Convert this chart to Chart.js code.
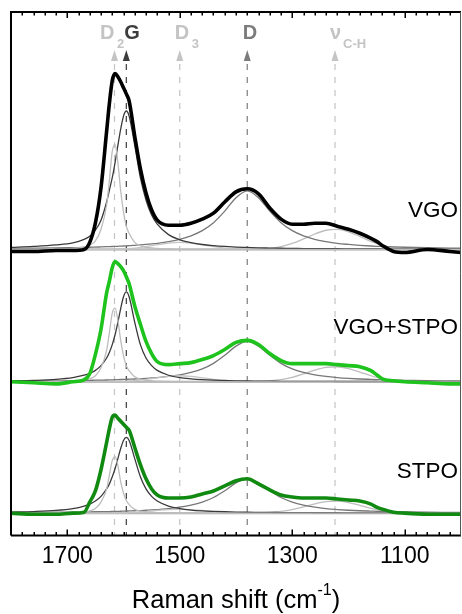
<!DOCTYPE html>
<html>
<head>
<meta charset="utf-8">
<script src="https://cdn.jsdelivr.net/npm/chart.js@4.4.1/dist/chart.umd.min.js"></script>
<style>
  html, body { margin: 0; padding: 0; background: #fff; }
  #wrap { width: 462px; height: 614px; }
</style>
</head>
<body>
<div id="wrap"><canvas id="raman"></canvas></div>
<script>
// Raman shift grid (cm-1), shared by all curves
const waveNumbers = [1800,1760,1720,1690,1670,1660,1650,1640,1630,1625,1620,1615,1610,1605,1600,1595,1590,1580,1570,1560,1550,1540,1520,1500,1480,1460,1440,1420,1400,1380,1360,1340,1320,1300,1280,1260,1240,1220,1200,1180,1160,1150,1140,1120,1100,1060,1020,1000];
const tickValues = [1700, 1500, 1300, 1100];

// measured spectra (intensity above each baseline, a.u.)
const vgoSpectrum  = [-2,-2,-1,-1,0,7,26,61,117,145,167,174,171,166,160,154,147,112,80,56,39,29,24,24,26,30,36,47,57,60,55,41,30,25,25,26,26,23,20,16,11,8,4,-2,-3,0,-2,-3];
const mixSpectrum  = [0,-1,-2,0,2,8,27,52,88,100,113,119,117,114,110,104,97,75,57,40,28,20,17,18,19,22,26,32,39,41,37,28,21,18,18,18,18,17,16,15,11,7,3,1,0,-1,-2,-2];
const stpoSpectrum = [0,-1,-1,0,1,11,22,43,70,84,95,97,94,91,88,85,82,65,48,34,24,18,15,15,16,19,22,27,32,34,29,23,18,16,15,15,15,14,13,12,9,6,4,1,0,-1,-1,-1];

// fitted bands, VGO
const vgoD2 = [0,0,0.5,1,2.6,4.2,8.4,20,44,69,97,104,86,58,37,23,16,7,3.7,2.1,1.6,1,0.5,0,0,0,0,0,0,0,0,0,0,0,0,0,0,0,0,0,0,0,0,0,0,0,0,0];
const vgoG  = [2,3,4.5,6.5,10,13,19,29,47,59,71,86,103,119,132,137,132,103,71,49,34,25,14.7,9.5,6.7,4.9,3.8,3,2.4,2,1.6,1.4,1.2,1.1,0.9,0.8,0.7,0.7,0.6,0.5,0.5,0.5,0.4,0.4,0.4,0.3,0.3,0.3];
const vgoD3 = [0,0,0,0,0,0,0,0,0,0,0.2,0.3,0.4,0.5,0.6,0.8,0.9,1.4,2.1,2.9,3.8,4.7,6.3,7,6.3,4.7,2.9,1.4,0.6,0.2,0,0,0,0,0,0,0,0,0,0,0,0,0,0,0,0,0,0];
const vgoD  = [1,1.2,1.5,1.8,2,2.2,2.3,2.5,2.7,2.8,2.9,3,3.1,3.3,3.4,3.6,3.7,4.1,4.5,5,5.6,6.1,7.8,10,13.5,18.6,26.5,37.9,51.2,58,51.2,37.9,26.5,18.6,13.5,10,7.8,6.1,5,4.1,3.4,3.1,2.9,2.5,2.2,1.7,1.3,1.2];
const vgoCH = [0,0,0,0,0,0,0,0,0,0,0,0,0,0,0,0,0,0,0,0,0,0,0,0,0,0,0,0,0,0,0.4,1.1,2.8,5.9,10.4,15.3,19,19.9,17.5,12.9,8,5.9,4.2,1.8,0.7,0.1,0,0];

// fitted bands, VGO+STPO
const mixD2 = [0,0,0.4,0.7,1.9,3,6,14,31,49,68,73,61,41,26,16,11,5,2.6,1.5,1.1,0.7,0.4,0,0,0,0,0,0,0,0,0,0,0,0,0,0,0,0,0,0,0,0,0,0,0,0,0];
const mixG  = [0.9,1.4,2.4,4.1,6.5,8.4,11.3,16,23.6,29.3,36.8,46.6,58.9,72.5,84.2,89,84.2,58.9,36.8,23.6,16,11.3,6.5,4.1,2.9,2.1,1.6,1.3,1,0.8,0.7,0.6,0.5,0.5,0.4,0.4,0.4,0.3,0.3,0.3,0.3,0.3,0.2,0.2,0.2,0.2,0.2,0.2];
const mixD3 = [0,0,0,0,0,0,0,0,0,0,0.2,0.2,0.3,0.4,0.5,0.6,0.8,1.2,1.8,2.5,3.2,4,5.4,6,5.4,4,2.5,1.2,0.5,0.2,0,0,0,0,0,0,0,0,0,0,0,0,0,0,0,0,0,0];
const mixD  = [0.7,0.8,1,1.2,1.4,1.5,1.6,1.7,1.8,1.9,2,2.1,2.2,2.3,2.4,2.5,2.6,2.8,3.1,3.4,3.8,4.2,5.3,6.9,9.3,12.8,18.3,26.2,35.3,40,35.3,26.2,18.3,12.8,9.3,6.9,5.3,4.2,3.4,2.8,2.4,2.2,2,1.7,1.5,1.1,0.9,0.8];
const mixCH = [0,0,0,0,0,0,0,0,0,0,0,0,0,0,0,0,0,0,0,0,0,0,0,0,0,0,0,0,0,0,0.3,0.9,2.1,4.4,7.8,11.5,14.3,14.9,13.1,9.7,6,4.4,3.1,1.4,0.5,0,0,0];

// fitted bands, STPO
const stpoD2 = [0,0,0.3,0.6,1.4,2.3,4.6,11,24,38,52,56,47,31,20,12.5,8.5,3.7,2,1.1,0.9,0.6,0.3,0,0,0,0,0,0,0,0,0,0,0,0,0,0,0,0,0,0,0,0,0,0,0,0,0];
const stpoG  = [1,1.6,2.7,4.5,7,9,12,16.6,24,29,36,44,54,64,72,75,72,54,36,24,16.6,12,7,4.5,3.1,2.3,1.8,1.4,1.1,0.9,0.8,0.7,0.6,0.5,0.5,0.4,0.4,0.4,0.3,0.3,0.3,0.3,0.3,0.3,0.2,0.2,0.2,0.2];
const stpoD3 = [0,0,0,0,0,0,0,0,0,0,0,0,0,0,0.3,0.4,0.5,0.8,1.2,1.6,2.2,2.7,3.6,4,3.6,2.7,1.6,0.8,0.3,0,0,0,0,0,0,0,0,0,0,0,0,0,0,0,0,0,0,0];
const stpoD  = [0.6,0.7,0.9,1,1.2,1.3,1.4,1.5,1.6,1.6,1.7,1.8,1.8,1.9,2,2.1,2.2,2.4,2.6,2.9,3.2,3.6,4.5,5.9,7.9,10.9,15.5,22.2,30,34,30,22.2,15.5,10.9,7.9,5.9,4.5,3.6,2.9,2.4,2,1.8,1.7,1.5,1.3,1,0.8,0.7];
const stpoCH = [0,0,0,0,0,0,0,0,0,0,0,0,0,0,0,0,0,0,0,0,0,0,0,0,0,0,0,0,0,0,0.2,0.7,1.7,3.5,6.2,9.2,11.4,11.9,10.5,7.7,4.8,3.5,2.5,1.1,0.4,0,0,0];

// vertical stacking offsets of the three panels
const sampleNames   = ['VGO', 'VGO+STPO', 'STPO'];
const sampleOffsets = [283, 152, 22];

// band positions marked on top
const bandNames   = ['D', 'G', 'D', 'D', 'ν'];
const bandSubs    = ['2', '', '3', '', 'C-H'];
const bandCenters = [1616, 1595, 1500, 1380, 1224];

const FONT = '"Liberation Sans", Arial, sans-serif';
const bandColors = ['#c4c4c4', '#3c3c3c', '#c4c4c4', '#7c7c7c', '#c4c4c4'];
const bandLabelDx = [-14.5, -2, -5, -4.5, -5];
const bandSubDx = [2.5, 0, 12, 0, 8];

function pts(vals, off) {
    return waveNumbers.map((w, i) => ({ x: w, y: vals[i] + off }));
}

function line(data, color, width, order) {
    return {
        data: data,
        borderColor: color,
        borderWidth: width,
        pointRadius: 0,
        fill: false,
        tension: 0.4,
        cubicInterpolationMode: 'monotone',
        order: order
    };
}

const panels = [
    { spec: vgoSpectrum, color: '#000000', bands: [vgoD2, vgoG, vgoD3, vgoD, vgoCH] },
    { spec: mixSpectrum, color: '#1ec31e', bands: [mixD2, mixG, mixD3, mixD, mixCH] },
    { spec: stpoSpectrum, color: '#108a10', bands: [stpoD2, stpoG, stpoD3, stpoD, stpoCH] }
];
const bandLineColors = ['#bdbdbd', '#3a3a3a', '#c4c4c4', '#777777', '#bdbdbd'];

const datasets = [];
panels.forEach((p, k) => {
    const off = sampleOffsets[k];
    datasets.push(line([{ x: 1800, y: off }, { x: 1000, y: off }], '#a8a8a8', 2, 3));
    p.bands.forEach((b, j) => datasets.push(line(pts(b, off), bandLineColors[j], 1.3, 2)));
    datasets.push(line(pts(p.spec, off), p.color, 3.6, 0));
});

// dashed markers with arrows and labels
const bandMarkers = {
    id: 'bandMarkers',
    beforeDatasetsDraw(chart) {
        const { ctx, chartArea, scales } = chart;
        ctx.save();
        bandCenters.forEach((c, i) => {
            const px = scales.x.getPixelForValue(c);
            ctx.strokeStyle = bandColors[i];
            ctx.lineWidth = 1.2;
            ctx.setLineDash([6, 7]);
            ctx.beginPath();
            ctx.moveTo(px, 64);
            ctx.lineTo(px, chartArea.bottom);
            ctx.stroke();
        });
        ctx.restore();
    },
    afterDraw(chart) {
        const { ctx, chartArea, scales } = chart;
        const x = scales.x;
        ctx.save();
        // arrows and labels
        bandCenters.forEach((c, i) => {
            const px = x.getPixelForValue(c);
            ctx.fillStyle = bandColors[i];
            ctx.beginPath();
            ctx.moveTo(px, 50);
            ctx.lineTo(px - 3.5, 61);
            ctx.lineTo(px + 3.5, 61);
            ctx.closePath();
            ctx.fill();
            ctx.textAlign = 'left';
            ctx.textBaseline = 'alphabetic';
            ctx.font = 'bold 20px ' + FONT;
            ctx.fillText(bandNames[i], px + bandLabelDx[i], 38.5);
            if (bandSubs[i]) {
                ctx.font = 'bold 13px ' + FONT;
                ctx.fillText(bandSubs[i], px + bandSubDx[i], 47.5);
            }
        });
        // sample names
        ctx.fillStyle = '#000';
        ctx.font = '22.5px ' + FONT;
        ctx.textAlign = 'right';
        const nameY = [217, 334, 478];
        sampleNames.forEach((n, k) => ctx.fillText(n, 458, nameY[k]));

        // frame and inward ticks
        ctx.strokeStyle = '#000';
        ctx.lineWidth = 2;
        ctx.beginPath();
        ctx.moveTo(chartArea.left, chartArea.bottom);
        ctx.lineTo(chartArea.left, chartArea.top);
        ctx.lineTo(chartArea.right, chartArea.top);
        ctx.moveTo(chartArea.left, chartArea.bottom);
        ctx.lineTo(chartArea.right, chartArea.bottom);
        ctx.stroke();
        ctx.strokeStyle = '#555';
        ctx.lineWidth = 1;
        ctx.beginPath();
        ctx.moveTo(chartArea.right - 0.5, chartArea.top);
        ctx.lineTo(chartArea.right - 0.5, chartArea.bottom);
        ctx.stroke();
        ctx.strokeStyle = '#000';
        ctx.lineWidth = 1.5;
        ctx.beginPath();
        for (let v = 1020; v < 1800; v += 20) {
            const px = Math.round(x.getPixelForValue(v)) + 0.25;
            const len = tickValues.includes(v) ? 6 : 3.5;
            ctx.moveTo(px, chartArea.top);
            ctx.lineTo(px, chartArea.top + len);
            ctx.moveTo(px, chartArea.bottom);
            ctx.lineTo(px, chartArea.bottom - len);
        }
        ctx.stroke();

        // axis title with superscript
        ctx.fillStyle = '#000';
        ctx.textAlign = 'left';
        const main = 'Raman shift (cm';
        ctx.font = '16px ' + FONT;
        const supW = ctx.measureText('-1').width;
        ctx.font = '25.5px ' + FONT;
        const mainW = ctx.measureText(main).width;
        const closeW = ctx.measureText(')').width;
        const cx = (chartArea.left + chartArea.right) / 2;
        let tx = cx - (mainW + supW + closeW) / 2;
        ctx.fillText(main, tx, 608);
        tx += mainW;
        ctx.font = '16px ' + FONT;
        ctx.fillText('-1', tx, 595);
        tx += supW;
        ctx.font = '25.5px ' + FONT;
        ctx.fillText(')', tx, 608);
        ctx.restore();
    }
};

new Chart(document.getElementById('raman'), {
    type: 'line',
    data: { datasets: datasets },
    options: {
        responsive: true,
        maintainAspectRatio: false,
        animation: false,
        devicePixelRatio: 1,
        layout: { padding: { left: 11, right: 1, top: 12, bottom: 37 } },
        plugins: { legend: { display: false }, tooltip: { enabled: false } },
        scales: {
            x: {
                type: 'linear',
                reverse: true,
                min: 1000,
                max: 1800,
                afterBuildTicks: (s) => { s.ticks = tickValues.map(v => ({ value: v })); },
                grid: { display: false, drawTicks: false, tickLength: 0 },
                border: { display: false },
                ticks: {
                    color: '#000',
                    padding: 7,
                    maxRotation: 0,
                    autoSkip: false,
                    callback: (v) => String(v),
                    font: { family: FONT, size: 23 }
                }
            },
            y: {
                display: false,
                min: 0,
                max: 518
            }
        }
    },
    plugins: [bandMarkers]
});
</script>
</body>
</html>
